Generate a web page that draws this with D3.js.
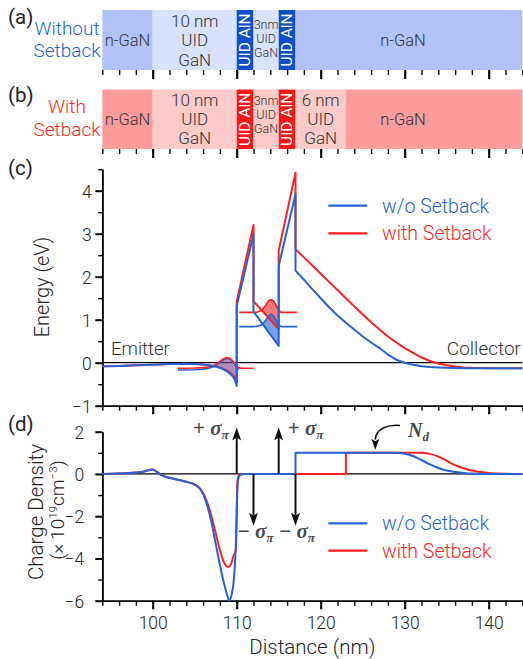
<!DOCTYPE html>
<html><head><meta charset="utf-8">
<script src="https://cdn.jsdelivr.net/npm/d3@7"></script>
<style>
body{margin:0;background:#fff}
svg{display:block}
text{font-family:Roboto,"Liberation Sans",Arial,sans-serif;font-weight:300}
</style>
</head><body>
<svg id="chart" width="523" height="659"></svg>
<script>
// ---------------- DATA ----------------
const layerEdgesA = [94, 100, 110, 112, 115, 117, 144];
const layerTypesA = ["n", "uid", "aln", "uid", "aln", "n"];
const layerEdgesB = [94, 100, 110, 112, 115, 117, 123, 144];
const layerTypesB = ["n", "uid", "aln", "uid", "aln", "uid", "n"];

// conduction band edge, without setback
const ecX_wo = [94, 96, 98, 100, 102, 104, 105, 106, 107, 107.5, 108, 108.5, 109, 109.5, 109.8, 110,
  110, 112, 112, 115, 115, 117, 117, 118, 119, 120, 121, 122, 123, 124, 125, 126, 127, 128, 129, 130,
  131, 132, 133, 134, 135, 137, 144];
const ecY_wo = [-0.08, -0.075, -0.06, -0.045, -0.03, -0.025, -0.03, -0.04, -0.07, -0.09, -0.12, -0.16, -0.22, -0.31, -0.41, -0.54,
  1.32, 2.98, 1.19, 0.39, 2.25, 3.92, 2.14, 1.93, 1.71, 1.50, 1.29, 1.10, 0.93, 0.77, 0.61, 0.47, 0.34, 0.19, 0.07, 0.0,
  -0.05, -0.08, -0.10, -0.11, -0.12, -0.13, -0.13];
// conduction band edge, with setback
const ecX_w = [94, 96, 98, 100, 102, 104, 105, 106, 107, 107.5, 108, 108.5, 109, 109.5, 109.8, 110,
  110, 112, 112, 115, 115, 117, 117, 118, 119, 120, 121, 122, 123, 124, 125, 126, 127, 128, 129, 130,
  131, 132, 133, 134, 135, 136, 137, 138, 140, 144];
const ecY_w = [-0.08, -0.075, -0.06, -0.045, -0.03, -0.025, -0.03, -0.04, -0.07, -0.09, -0.11, -0.15, -0.20, -0.28, -0.35, -0.45,
  1.42, 3.20, 1.43, 0.78, 2.60, 4.42, 2.64, 2.45, 2.26, 2.07, 1.88, 1.69, 1.50, 1.31, 1.12, 0.94, 0.77, 0.61, 0.47, 0.34,
  0.23, 0.12, 0.04, -0.02, -0.06, -0.09, -0.11, -0.12, -0.13, -0.13];

// emitter quasi-bound state (energy level + |psi|^2)
const wfEmX_wo = [103, 104, 105, 106, 106.5, 107, 107.5, 108, 108.5, 108.8, 109.2, 109.6, 110, 110.2];
const wfEmY_wo = [-0.17, -0.17, -0.165, -0.15, -0.135, -0.11, -0.07, 0.0, 0.08, 0.10, 0.08, 0.01, -0.10, -0.17];
const wfEmX_w = [103, 104, 105, 106, 106.5, 107, 107.5, 108, 108.5, 108.8, 109.2, 109.6, 110, 110.3, 110.6, 111, 112];
const wfEmY_w = [-0.13, -0.13, -0.125, -0.115, -0.10, -0.08, -0.04, 0.03, 0.10, 0.12, 0.10, 0.03, -0.08, -0.12, -0.13, -0.13, -0.13];
// well state
const wfWX_wo = [110.3, 112, 112.4, 113, 113.5, 113.8, 114.1, 114.4, 114.7, 115, 115.3, 117.2];
const wfWY_wo = [0.84, 0.84, 0.845, 0.88, 1.00, 1.10, 1.13, 1.09, 0.98, 0.88, 0.84, 0.84];
const wfWX_w = [110.3, 112, 112.4, 113, 113.5, 113.8, 114.1, 114.4, 114.7, 115, 115.3, 117.2];
const wfWY_w = [1.17, 1.17, 1.175, 1.22, 1.35, 1.44, 1.47, 1.43, 1.33, 1.22, 1.17, 1.17];

// charge density (x1e19 cm^-3)
const rhoX_wo = [94, 96, 98, 99, 100, 100.5, 101, 102, 103, 104, 105, 105.5, 106, 106.5, 107, 107.5, 108, 108.5, 109, 109.1,
  109.4, 109.7, 109.9, 110.05, 110.2, 110.5, 111, 117, 117, 129, 130, 131, 132, 133, 134, 135, 136, 137, 138, 140, 144];
const rhoY_wo = [0, 0.02, 0.07, 0.12, 0.21, 0.1, -0.05, -0.18, -0.27, -0.37, -0.5, -0.65, -0.95, -1.5, -2.3, -3.3, -4.3, -5.2, -5.9, -6.0,
  -5.7, -4.8, -3.3, -1.0, -0.2, -0.03, 0, 0, 1, 1, 0.96, 0.85, 0.66, 0.45, 0.28, 0.16, 0.09, 0.05, 0.02, 0, 0];
const rhoX_w = [94, 96, 98, 99, 100, 100.5, 101, 102, 103, 104, 105, 105.5, 106, 106.5, 107, 107.5, 108, 108.5, 109,
  109.3, 109.6, 109.9, 110, 110.1, 110.3, 110.6, 123, 123, 132, 133, 134, 135, 136, 137, 138, 139, 140, 141, 143, 144];
const rhoY_w = [0, 0.02, 0.07, 0.12, 0.21, 0.1, -0.05, -0.18, -0.27, -0.37, -0.5, -0.63, -0.9, -1.35, -2.0, -2.8, -3.6, -4.2, -4.4,
  -4.3, -3.9, -3.6, -2.0, -0.3, -0.05, 0, 0, 1, 1, 0.95, 0.82, 0.62, 0.42, 0.27, 0.16, 0.09, 0.05, 0.02, 0, 0];

const xMajor = [100, 110, 120, 130, 140];
const xMinor = d3.range(94, 145, 2);
const eTicks = [-1, 0, 1, 2, 3, 4];
const eMinor = [-0.5, 0.5, 1.5, 2.5, 3.5, 4.5];
const qTicks = [-6, -4, -2, 0, 2];
const qMinor = [-5, -3, -1, 1];
const seriesNames = ["w/o Setback", "with Setback"];
const sigmaUp = [110, 115], sigmaDown = [112, 117];

// ---------------- STYLE ----------------
const BLUE = "#2662d6", RED = "#ff1f1f";
const colA = {n: "#b3c3fa", uid: "#d9e1fc", aln: "#104fc8"};
const colB = {n: "#fb9b9b", uid: "#fdcaca", aln: "#f91818"};
const FONT = 'Roboto,"Liberation Sans",Arial,sans-serif';
const MATH = '"Liberation Serif","DejaVu Serif",serif';

const svg = d3.select("#chart");
const x = d3.scaleLinear().domain([94, 144]).range([102.3, 522.3]);
const yE = d3.scaleLinear().domain([-1, 4.5]).range([405.7, 169.2]);
const yQ = d3.scaleLinear().domain([-6, 2]).range([600.7, 431.7]);

function interp(xs, ys, v) {
  if (v <= xs[0]) return ys[0];
  for (let i = 0; i < xs.length - 1; i++) {
    if (xs[i + 1] > xs[i] && v >= xs[i] && v < xs[i + 1]) {
      const t = (v - xs[i]) / (xs[i + 1] - xs[i]);
      return ys[i] + t * (ys[i + 1] - ys[i]);
    }
  }
  return ys[ys.length - 1];
}

// ---------------- Layer bars ----------------
function bar(edges, types, cols, y0, y1) {
  const g = svg.append("g");
  types.forEach((t, i) => {
    g.append("rect").attr("x", x(edges[i])).attr("y", y0)
      .attr("width", x(edges[i + 1]) - x(edges[i])).attr("height", y1 - y0)
      .attr("fill", cols[t]);
  });
  const axMin = d3.axisBottom(x).tickValues(xMinor.filter(v => v % 10 !== 0)).tickSize(5).tickFormat("").tickSizeOuter(0);
  const axMaj = d3.axisBottom(x).tickValues(xMajor).tickSize(9).tickFormat("").tickSizeOuter(0);
  const a1 = svg.append("g").attr("transform", `translate(0,${y1})`).call(axMin);
  const a2 = svg.append("g").attr("transform", `translate(0,${y1})`).call(axMaj);
  [a1, a2].forEach(a => a.select(".domain").remove());
  a1.selectAll("line").attr("stroke", "#000").attr("stroke-width", 1.4);
  a2.selectAll("line").attr("stroke", "#000").attr("stroke-width", 2.2);
  return g;
}
const gA = bar(layerEdgesA, layerTypesA, colA, 10, 70);
const gB = bar(layerEdgesB, layerTypesB, colB, 89.5, 149);

function lines(g, cx, cy, arr, size, spacing, color) {
  const t = g.append("text").attr("text-anchor", "middle").attr("font-size", size).attr("fill", color || "#333");
  arr.forEach((s, i) => t.append("tspan").attr("x", cx).attr("y", cy + i * spacing).text(s));
}
lines(gA, (x(94) + x(100)) / 2, 45.5, ["n-GaN"], 16.5, 0);
lines(gA, (x(100) + x(110)) / 2, 26.5, ["10 nm", "UID", "GaN"], 17, 19.5);
lines(gA, (x(112) + x(115)) / 2, 28.5, ["3nm", "UID", "GaN"], 12.5, 14);
lines(gA, x(129.8), 45.5, ["n-GaN"], 16.5, 0);
lines(gB, (x(94) + x(100)) / 2, 124.5, ["n-GaN"], 16.5, 0);
lines(gB, (x(100) + x(110)) / 2, 105.8, ["10 nm", "UID", "GaN"], 17, 19);
lines(gB, (x(112) + x(115)) / 2, 105, ["3nm", "UID", "GaN"], 12.5, 14);
lines(gB, (x(117) + x(123)) / 2, 105.8, ["6 nm", "UID", "GaN"], 17, 19);
lines(gB, x(129.8), 124.5, ["n-GaN"], 16.5, 0);
function alnLabel(g, x0, x1, yc) {
  const cx = (x(x0) + x(x1)) / 2;
  g.append("text").attr("transform", `translate(${cx + 5.3},${yc}) rotate(-90)`)
    .attr("text-anchor", "middle").attr("font-size", 15.5).style("font-weight", 400).attr("fill", "#fff").text("UID AlN");
}
alnLabel(gA, 110, 112, 40); alnLabel(gA, 115, 117, 40);
alnLabel(gB, 110, 112, 119.3); alnLabel(gB, 115, 117, 119.3);

function panelLabel(s, px, py) {
  svg.append("text").attr("x", px).attr("y", py).attr("font-size", 20.5).style("font-weight", 400).attr("fill", "#222").text(s);
}
panelLabel("(a)", 8, 24);
panelLabel("(b)", 8, 102);
lines(svg, 67, 35, ["Without", "Setback"], 19, 21.5, BLUE);
lines(svg, 67, 113.3, ["With", "Setback"], 19, 23, RED);

// ---------------- Panel (c) ----------------
const gC = svg.append("g");
const fmt = d => d < 0 ? "\u2212" + Math.abs(d) : d;
const axEmaj = d3.axisLeft(yE).tickValues(eTicks).tickSize(7).tickPadding(3.5).tickFormat(fmt).tickSizeOuter(0);
const axEmin = d3.axisLeft(yE).tickValues(eMinor).tickSize(4).tickFormat("").tickSizeOuter(0);
const cA1 = gC.append("g").attr("transform", `translate(${x(94)},0)`).call(axEmaj);
const cA2 = gC.append("g").attr("transform", `translate(${x(94)},0)`).call(axEmin);
const axXmin = d3.axisBottom(x).tickValues(xMinor.filter(v => v % 10 !== 0)).tickSize(5).tickFormat("").tickSizeOuter(0);
const axXmajNo = d3.axisBottom(x).tickValues(xMajor).tickSize(8.5).tickFormat("").tickSizeOuter(0);
const cB1 = gC.append("g").attr("transform", `translate(0,${yE(-1)})`).call(axXmin);
const cB2 = gC.append("g").attr("transform", `translate(0,${yE(-1)})`).call(axXmajNo);
function styleAxis(list) {
  list.forEach(a => {
    a.selectAll("line").attr("stroke", "#000").attr("stroke-width", 1.4);
    a.select(".domain").attr("stroke", "#000").attr("stroke-width", 1.6);
    a.selectAll("text").attr("font-size", 17.5).attr("fill", "#222").attr("font-family", FONT);
  });
}
styleAxis([cA1, cA2, cB1, cB2]);
cA1.selectAll("line").attr("stroke-width", 2);
cB2.selectAll("line").attr("stroke-width", 2.2);
cA1.selectAll("text").attr("dy", "0.36em");

gC.append("line").attr("x1", x(94)).attr("x2", x(144)).attr("y1", yE(0)).attr("y2", yE(0))
  .attr("stroke", "#000").attr("stroke-width", 1.3);

function wfFill(g, wx, wy, ex, ey, color, op) {
  const pts = [];
  for (let v = wx[0]; v <= wx[wx.length - 1] + 1e-9; v += 0.02) {
    pts.push({x: v, ec: interp(ex, ey, v), wf: interp(wx, wy, v)});
  }
  const area = d3.area().defined(d => d.wf > d.ec).x(d => x(d.x)).y0(d => yE(d.ec)).y1(d => yE(d.wf));
  g.append("path").datum(pts).attr("d", area).attr("fill", color).attr("fill-opacity", op);
}
wfFill(gC, wfEmX_w, wfEmY_w, ecX_w, ecY_w, RED, 0.38);
wfFill(gC, wfEmX_wo, wfEmY_wo, ecX_wo, ecY_wo, BLUE, 0.38);
wfFill(gC, wfWX_w, wfWY_w, ecX_w, ecY_w, RED, 0.6);
wfFill(gC, wfWX_wo, wfWY_wo, ecX_wo, ecY_wo, BLUE, 0.6);

const lineE = d3.line().x(d => x(d[0])).y(d => yE(d[1]));
function drawE(xs, ys, color, w) {
  gC.append("path").datum(xs.map((v, i) => [v, ys[i]])).attr("d", lineE)
    .attr("fill", "none").attr("stroke", color).attr("stroke-width", w).attr("stroke-linejoin", "round");
}
drawE(wfEmX_wo, wfEmY_wo, BLUE, 1.6);
drawE(wfEmX_w, wfEmY_w, RED, 1.6);
drawE(wfWX_wo, wfWY_wo, BLUE, 1.6);
drawE(wfWX_w, wfWY_w, RED, 1.6);
drawE(ecX_w, ecY_w, RED, 2);
drawE(ecX_wo, ecY_wo, BLUE, 2);

gC.append("text").attr("x", 111).attr("y", 355).attr("font-size", 18.5).attr("fill", "#333").text("Emitter");
gC.append("text").attr("x", 521).attr("y", 355).attr("text-anchor", "end").attr("font-size", 19).attr("fill", "#333").text("Collector");
gC.append("text").attr("transform", "translate(49,287) rotate(-90)").attr("text-anchor", "middle")
  .attr("font-size", 20).attr("fill", "#222").text("Energy (eV)");
panelLabel("(c)", 8, 175);

function legend(g, y1, y2) {
  [[y1, BLUE, seriesNames[0]], [y2, RED, seriesNames[1]]].forEach(([yy, c, s]) => {
    g.append("line").attr("x1", 328.3).attr("x2", 367.3).attr("y1", yy).attr("y2", yy)
      .attr("stroke", c).attr("stroke-width", 2.2);
    g.append("text").attr("x", 382).attr("y", yy + 7).attr("font-size", 19.5).attr("fill", c).text(s);
  });
}
legend(gC, 205.7, 233.3);

// ---------------- Panel (d) ----------------
const gD = svg.append("g");
const axQmaj = d3.axisLeft(yQ).tickValues(qTicks).tickSize(7).tickPadding(11).tickFormat(fmt).tickSizeOuter(0);
const axQmin = d3.axisLeft(yQ).tickValues(qMinor).tickSize(4).tickFormat("").tickSizeOuter(0);
const dA1 = gD.append("g").attr("transform", `translate(${x(94)},0)`).call(axQmaj);
const dA2 = gD.append("g").attr("transform", `translate(${x(94)},0)`).call(axQmin);
const axXmaj = d3.axisBottom(x).tickValues(xMajor).tickSize(8.5).tickPadding(7).tickFormat(d3.format("d")).tickSizeOuter(0);
const dB1 = gD.append("g").attr("transform", `translate(0,${yQ(-6)})`).call(axXmin);
const dB2 = gD.append("g").attr("transform", `translate(0,${yQ(-6)})`).call(axXmaj);
styleAxis([dA1, dA2, dB1, dB2]);
dA1.selectAll("line").attr("stroke-width", 2);
dB2.selectAll("line").attr("stroke-width", 2.2);
dA1.selectAll("text").attr("dy", "0.36em");

gD.append("line").attr("x1", x(94)).attr("x2", x(144)).attr("y1", yQ(0)).attr("y2", yQ(0))
  .attr("stroke", "#000").attr("stroke-width", 1.3);

const lineQ = d3.line().x(d => x(d[0])).y(d => yQ(d[1])).curve(d3.curveMonotoneX);
function drawQ(xs, ys, color) {
  const segs = []; let cur = [[xs[0], ys[0]]];
  for (let i = 1; i < xs.length; i++) {
    if (xs[i] === xs[i - 1]) { segs.push(cur); cur = []; }
    cur.push([xs[i], ys[i]]);
  }
  segs.push(cur);
  let d = "";
  segs.forEach((s, k) => {
    const p = lineQ(s);
    d += k === 0 ? p : p.replace(/^M/, "L");
  });
  gD.append("path").attr("d", d).attr("fill", "none").attr("stroke", color)
    .attr("stroke-width", 2).attr("stroke-linejoin", "round");
}
drawQ(rhoX_w, rhoY_w, RED);
drawQ(rhoX_wo, rhoY_wo, BLUE);

// polarization charge arrows
function arrow(xv, yFrom, yTo) {
  const px = x(xv), p0 = yQ(yFrom), tip = yQ(yTo);
  const dir = tip < p0 ? 1 : -1;
  const base = tip + dir * 13;
  gD.append("line").attr("x1", px).attr("x2", px).attr("y1", p0).attr("y2", base - dir * 3)
    .attr("stroke", "#111").attr("stroke-width", 2);
  gD.append("path").attr("d", `M${px},${tip} L${px - 4.5},${base} L${px},${base - dir * 3} L${px + 4.5},${base} Z`)
    .attr("fill", "#111");
}
sigmaUp.forEach(v => arrow(v, 0, 2.2));
sigmaDown.forEach(v => arrow(v, 0, -2.45));

function sigmaLabel(xpx, ypx, sign, anchor) {
  const t = gD.append("text").attr("x", xpx).attr("y", ypx).attr("text-anchor", anchor)
    .style("font-family", MATH).style("font-weight", 700)
    .attr("fill", "#4a4a4a").attr("font-size", 21);
  t.append("tspan").text(sign + " ");
  t.append("tspan").style("font-style", "italic").text("\u03C3");
  t.append("tspan").style("font-style", "italic").attr("font-size", 13).attr("dy", 4).text("\u03C0");
}
sigmaLabel(x(110) - 8, 435, "+", "end");
sigmaLabel(x(115) + 9, 435, "+", "start");
sigmaLabel(x(110) + 1, 538, "\u2212", "start");
sigmaLabel(x(115) + 0.5, 538, "\u2212", "start");

// N_d annotation
const nd = gD.append("text").attr("x", 408).attr("y", 437)
  .style("font-family", MATH).style("font-weight", 700)
  .style("font-style", "italic").attr("fill", "#4a4a4a").attr("font-size", 20);
nd.append("tspan").text("N");
nd.append("tspan").attr("font-size", 13).attr("dy", 4).text("d");
const tipX = x(126.5), tipY = yQ(1.15);
gD.append("path").attr("d", `M400,425.5 C389,424.5 ${tipX + 0.5},428 ${tipX},${tipY - 10}`)
  .attr("fill", "none").attr("stroke", "#111").attr("stroke-width", 1.6);
gD.append("path").attr("d", `M${tipX},${tipY} L${tipX - 4},${tipY - 11} L${tipX},${tipY - 8.5} L${tipX + 4},${tipY - 11} Z`)
  .attr("fill", "#111");

legend(gD, 523.3, 550.7);

const yl = gD.append("text").attr("transform", "translate(43,512) rotate(-90)").attr("text-anchor", "middle")
  .attr("font-size", 20.5).attr("fill", "#222");
yl.append("tspan").attr("x", 0).attr("y", 0).text("Charge Density");
const yl2 = gD.append("text").attr("transform", "translate(64,510) rotate(-90)").attr("text-anchor", "middle")
  .attr("font-size", 19).attr("fill", "#222");
yl2.append("tspan").text("(\u00D7\u200910");
yl2.append("tspan").attr("font-size", 11.5).attr("dy", -7).text("19");
yl2.append("tspan").attr("dy", 7).text("cm");
yl2.append("tspan").attr("font-size", 11.5).attr("dy", -7).text("\u22123");
yl2.append("tspan").attr("dy", 7).text(")");
gD.append("text").attr("x", (x(94) + x(144)) / 2).attr("y", 654).attr("text-anchor", "middle")
  .attr("font-size", 20.5).attr("fill", "#222").text("Distance (nm)");
panelLabel("(d)", 8, 431);
</script>
</body></html>
